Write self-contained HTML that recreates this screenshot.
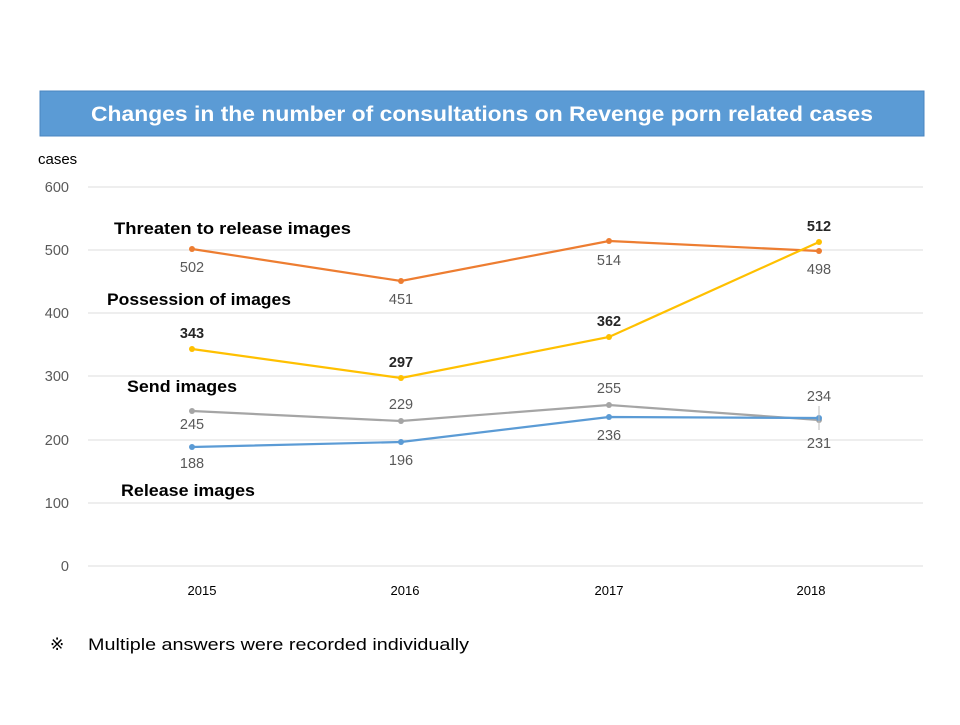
<!DOCTYPE html>
<html><head><meta charset="utf-8"><style>
body{margin:0;background:#fff;width:960px;height:720px;overflow:hidden;font-family:"Liberation Sans",sans-serif}
</style></head><body>
<svg width="960" height="720" xmlns="http://www.w3.org/2000/svg" font-family="Liberation Sans, DejaVu Sans, sans-serif">
<rect x="40" y="91" width="884" height="45" fill="#5B9BD5" stroke="#4a86c0"/>
<text x="91" y="121" textLength="782" lengthAdjust="spacingAndGlyphs" fill="#fff" font-size="21" font-weight="bold">Changes in the number of consultations on Revenge porn related cases</text>
<text x="38" y="164" font-size="15" fill="#000">cases</text>
<g stroke="#e3e3e3" stroke-width="1.3">
<line x1="88" y1="187" x2="923" y2="187"/><line x1="88" y1="250" x2="923" y2="250"/>
<line x1="88" y1="313" x2="923" y2="313"/><line x1="88" y1="376" x2="923" y2="376"/>
<line x1="88" y1="440" x2="923" y2="440"/><line x1="88" y1="503" x2="923" y2="503"/>
<line x1="88" y1="566" x2="923" y2="566"/></g>
<g font-size="14.5" fill="#595959" text-anchor="end">
<text x="69" y="192">600</text><text x="69" y="255">500</text><text x="69" y="318">400</text>
<text x="69" y="381">300</text><text x="69" y="445">200</text><text x="69" y="508">100</text><text x="69" y="571">0</text></g>
<g font-size="13" fill="#000" text-anchor="middle">
<text x="202" y="595">2015</text><text x="405" y="595">2016</text><text x="609" y="595">2017</text><text x="811" y="595">2018</text></g>
<polyline points="192,249 401,281 609,241 819,251" fill="none" stroke="#ED7D31" stroke-width="2.2"/>
<polyline points="192,349 401,378 609,337 819,242" fill="none" stroke="#FFC000" stroke-width="2.2"/>
<polyline points="192,411 401,421 609,405 819,420" fill="none" stroke="#A5A5A5" stroke-width="2.2"/>
<polyline points="192,447 401,442 609,417 819,418" fill="none" stroke="#5B9BD5" stroke-width="2.2"/>
<g fill="#ED7D31"><circle cx="192" cy="249" r="3"/><circle cx="401" cy="281" r="3"/><circle cx="609" cy="241" r="3"/><circle cx="819" cy="251" r="3"/></g>
<g fill="#FFC000"><circle cx="192" cy="349" r="3"/><circle cx="401" cy="378" r="3"/><circle cx="609" cy="337" r="3"/><circle cx="819" cy="242" r="3"/></g>
<g fill="#A5A5A5"><circle cx="192" cy="411" r="3"/><circle cx="401" cy="421" r="3"/><circle cx="609" cy="405" r="3"/><circle cx="819" cy="420" r="3"/></g>
<g fill="#5B9BD5"><circle cx="192" cy="447" r="3"/><circle cx="401" cy="442" r="3"/><circle cx="609" cy="417" r="3"/><circle cx="819" cy="418" r="3"/></g>
<line x1="819" y1="406" x2="819" y2="430" stroke="#bbb"/>
<g font-size="14.5" fill="#595959" text-anchor="middle">
<text x="192" y="272">502</text><text x="401" y="304">451</text><text x="609" y="265">514</text><text x="819" y="274">498</text>
<text x="192" y="429">245</text><text x="401" y="409">229</text><text x="609" y="393">255</text><text x="819" y="448">231</text>
<text x="192" y="468">188</text><text x="401" y="465">196</text><text x="609" y="440">236</text><text x="819" y="401">234</text></g>
<g font-size="14.5" fill="#262626" font-weight="bold" text-anchor="middle">
<text x="192" y="338">343</text><text x="401" y="367">297</text><text x="609" y="326">362</text><text x="819" y="231">512</text></g>
<g font-size="17" font-weight="bold" fill="#000">
<text x="114" y="234" textLength="237" lengthAdjust="spacingAndGlyphs">Threaten to release images</text>
<text x="107" y="305" textLength="184" lengthAdjust="spacingAndGlyphs">Possession of images</text>
<text x="127" y="392" textLength="110" lengthAdjust="spacingAndGlyphs">Send images</text>
<text x="121" y="496" textLength="134" lengthAdjust="spacingAndGlyphs">Release images</text></g>
<text x="50" y="650" font-size="17" fill="#000">※</text>
<text x="88" y="650" font-size="17" fill="#000" textLength="381" lengthAdjust="spacingAndGlyphs">Multiple answers were recorded individually</text>
</svg>
</body></html>
